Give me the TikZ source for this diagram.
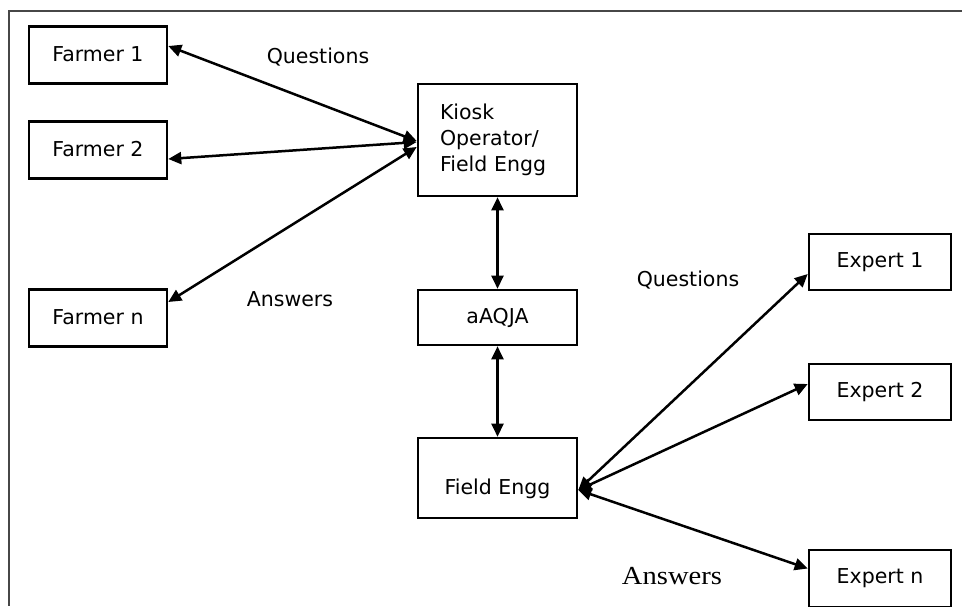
\documentclass[tikz,border=0pt]{standalone}
\usepackage{fontspec}
\setmainfont{DejaVu Sans}
\newfontfamily\answerserif{Liberation Serif}
\usetikzlibrary{arrows.meta,calc}
\begin{document}
\begin{tikzpicture}[x=1pt,y=-1pt,
  txt/.style={font=\fontsize{20.5}{26}\selectfont},
  box/.style={draw, line width=2.6pt, inner sep=0pt, txt},
  farmerbox/.style={box, minimum width=138pt, minimum height=57pt},
  expertbox/.style={box, minimum width=142pt, minimum height=56pt},
  midbox/.style={box, minimum width=159pt},
  arr/.style={{Triangle[length=13pt,width=12pt]}-{Triangle[length=13pt,width=12pt]}, line width=2.5pt},
  frame/.style={draw=black!72, line width=2pt}
]
\useasboundingbox (0,0) rectangle (962,606);
\draw[frame] (962,11) -- (9,11) -- (9,606);

\node[farmerbox] (f1) at (98,55) {\raisebox{2pt}{Farmer 1}};
\node[farmerbox] (f2) at (98,150) {\raisebox{2pt}{Farmer 2}};
\node[farmerbox] (fn) at (98,318) {\raisebox{2pt}{Farmer n}};

\node[midbox, minimum height=112pt, text width=115pt, align=left] (kiosk) at (497.5,140) {Kiosk\\Operator/\\Field Engg\\[8pt]};
\node[midbox, minimum height=55pt] (aaqja) at (497.5,317.5) {aAQJA};
\node[midbox, minimum height=80pt] (fe) at (497.5,478) {\raisebox{-16pt}[0pt][0pt]{Field Engg}};

\node[expertbox] (e1) at (880,262) {\raisebox{3pt}{Expert 1}};
\node[expertbox] (e2) at (880,392) {\raisebox{3pt}{Expert 2}};
\node[expertbox, minimum height=57pt] (en) at (880,578.5) {\raisebox{3pt}{Expert n}};

\draw[arr] ([yshift=9pt]f1.east) -- ([yshift=-1pt]kiosk.west);
\draw[arr] ([yshift=-9pt]f2.east) -- ([yshift=-2pt]kiosk.west);
\draw[arr] ([yshift=16pt]fn.east) -- ([yshift=-7pt]kiosk.west);

\draw[arr] (kiosk.south) -- (aaqja.north);
\draw[arr] (aaqja.south) -- (fe.north);

\draw[arr] ([yshift=-12pt]fe.east) -- ([yshift=-12pt]e1.west);
\draw[arr] ([yshift=-12pt]fe.east) -- ([yshift=8pt]e2.west);
\draw[arr] ([yshift=-12pt]fe.east) -- ([yshift=10pt]en.west);

\node[txt] (q1) at (318,57) {Questions};
\node[txt] (a1) at (290,299) {Answers};
\node[txt] (q2) at (688,280) {Questions};
\node[font=\answerserif\fontsize{26}{30}\selectfont] (a2) at (672,576) {\scalebox{1.1}[1]{Answers}};
\end{tikzpicture}
\end{document}
